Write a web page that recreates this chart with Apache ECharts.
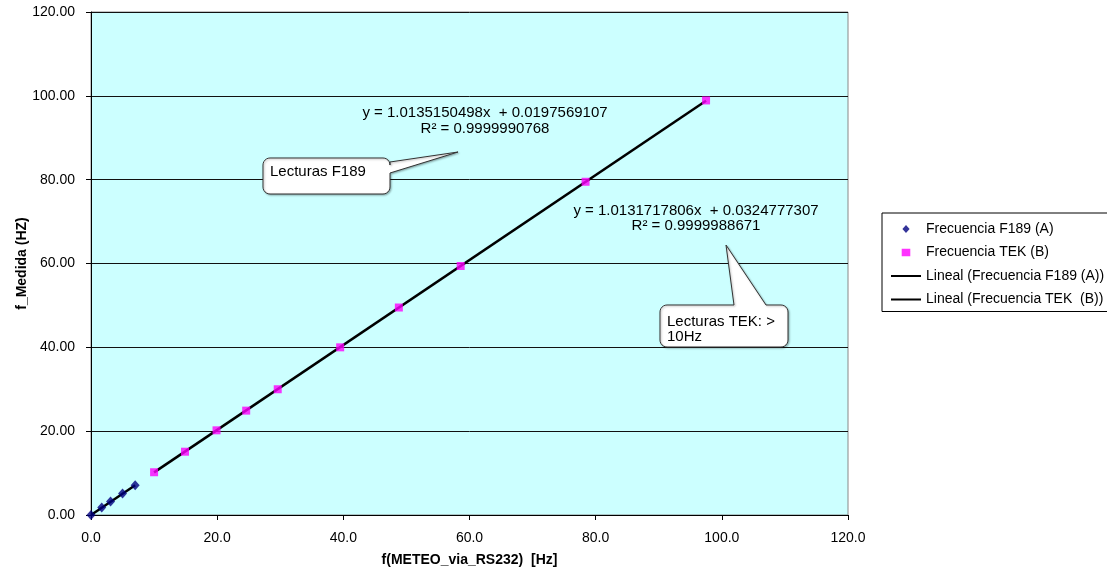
<!DOCTYPE html>
<html><head><meta charset="utf-8">
<script src="https://cdn.jsdelivr.net/npm/echarts@6/dist/echarts.min.js"></script>
<style>html,body{margin:0;padding:0;background:#fff}#c{width:1107px;height:571px}</style>
</head><body><div id="c"></div>
<script>
// ---- data ----
const xTicks = [0, 20, 40, 60, 80, 100, 120];
const yTicks = [0, 20, 40, 60, 80, 100, 120];
const f189X = [0, 1.7, 3.1, 5.0, 7.0];
const f189Y = [0, 1.8, 3.2, 5.1, 7.1];
const tekX = [10.0, 14.9, 19.9, 24.6, 29.6, 39.5, 48.8, 58.6, 78.4, 97.5];
const tekY = [10.2, 15.1, 20.2, 24.9, 30.0, 40.0, 49.5, 59.4, 79.5, 98.9];
const trendAX = [0, 7.0];
const trendAY = [0.02, 7.11];
const trendBX = [10.0, 97.5];
const trendBY = [10.17, 98.82];
const seriesNames = ['Frecuencia F189 (A)', 'Frecuencia TEK (B)', 'Lineal (Frecuencia F189 (A))', 'Lineal (Frecuencia TEK  (B))'];
const eqA = ['y = 1.0135150498x  + 0.0197569107', 'R² = 0.9999990768'];
const eqB = ['y = 1.0131717806x  + 0.0324777307', 'R² = 0.9999988671'];
const noteA = ['Lecturas F189'];
const noteB = ['Lecturas TEK: >', '10Hz'];
const xName = 'f(METEO_via_RS232)  [Hz]';
const yName = 'f_Medida (HZ)';

const zip = (a, b) => a.map((v, i) => [v, b[i]]);
const FONT = 'Liberation Sans, Arial, sans-serif';

// legend icons drawn in a 30x8 frame (tiny corner dots fix the frame)
const FRAME = 'M0,0L0.01,0L0,0.01Z M30,8L29.99,8L30,7.99Z ';
const iconDiamond = 'path://' + FRAME + 'M11.4,4L15,0L18.6,4L15,8Z';
const iconSquare = 'path://' + FRAME + 'M10.7,0.2H19.3V7.8H10.7Z';
const iconLine = 'path://' + FRAME + 'M0,3H30V5H0Z';

function callout(x0, y0, x1, y1, r, wedge) {
  const pts = [];
  const arc = (cx, cy, a0, a1) => {
    for (let k = 0; k <= 6; k++) {
      const a = a0 + (a1 - a0) * k / 6;
      pts.push([cx + r * Math.cos(a), cy + r * Math.sin(a)]);
    }
  };
  const P = Math.PI;
  arc(x0 + r, y0 + r, P, 1.5 * P);
  if (wedge.side === 'top') { pts.push([wedge.a, y0], wedge.tip, [wedge.b, y0]); }
  arc(x1 - r, y0 + r, 1.5 * P, 2 * P);
  if (wedge.side === 'right') { pts.push([x1, wedge.a], wedge.tip, [x1, wedge.b]); }
  arc(x1 - r, y1 - r, 0, 0.5 * P);
  arc(x0 + r, y1 - r, 0.5 * P, P);
  return pts;
}

const chart = echarts.init(document.getElementById('c'), null, {renderer: 'canvas'});
const txt = {fill: '#000', fontFamily: FONT, fontSize: 15};
const boxStyle = {fill: '#fff', stroke: '#333', lineWidth: 1, shadowBlur: 2, shadowColor: 'rgba(0,0,0,0.3)', shadowOffsetX: 1, shadowOffsetY: 1};

const option = {
  animation: false,
  backgroundColor: '#fff',
  textStyle: {fontFamily: FONT},
  grid: {left: 91, right: 259, top: 12, bottom: 56, show: true, backgroundColor: '#CCFFFF',
         borderColor: '#888', borderWidth: 1, outerBoundsMode: 'none', containLabel: false},
  xAxis: {
    type: 'value', min: xTicks[0], max: xTicks[xTicks.length - 1], interval: xTicks[1] - xTicks[0],
    name: xName, nameLocation: 'middle', nameGap: 38, nameMoveOverlap: false,
    nameTextStyle: {fontWeight: 'bold', fontSize: 14, color: '#000', fontFamily: FONT},
    axisLine: {show: true, onZero: false, lineStyle: {color: '#000', width: 1}},
    axisTick: {show: true, inside: false, length: 5, lineStyle: {color: '#000'}},
    axisLabel: {color: '#000', fontSize: 14, fontFamily: FONT, margin: 16, formatter: v => v.toFixed(1)},
    splitLine: {show: false}
  },
  yAxis: {
    type: 'value', min: yTicks[0], max: yTicks[yTicks.length - 1], interval: yTicks[1] - yTicks[0],
    name: yName, nameLocation: 'middle', nameGap: 62, nameRotate: 90, nameMoveOverlap: false,
    nameTextStyle: {fontWeight: 'bold', fontSize: 14, color: '#000', fontFamily: FONT},
    axisLine: {show: true, onZero: false, lineStyle: {color: '#000', width: 1}},
    axisTick: {show: true, inside: false, length: 5, lineStyle: {color: '#000'}},
    axisLabel: {color: '#000', fontSize: 14, fontFamily: FONT, margin: 16, formatter: v => v.toFixed(2)},
    splitLine: {show: true, lineStyle: {color: '#111', width: 1}}
  },
  legend: {
    orient: 'vertical', left: 882, top: 213,
    padding: [9, 10, 5, 9], itemGap: 9.5, itemWidth: 30, itemHeight: 8,
    borderColor: '#000', borderWidth: 1, backgroundColor: '#fff',
    textStyle: {color: '#000', fontSize: 14, fontFamily: FONT},
    selectedMode: false,
    data: [
      {name: seriesNames[0], icon: iconDiamond},
      {name: seriesNames[1], icon: iconSquare},
      {name: seriesNames[2], icon: iconLine},
      {name: seriesNames[3], icon: iconLine}
    ]
  },
  series: [
    {name: seriesNames[2], type: 'line', data: zip(trendAX, trendAY), symbol: 'none', showSymbol: false,
     lineStyle: {color: '#000', width: 2.5}, itemStyle: {color: '#000'}, z: 3},
    {name: seriesNames[3], type: 'line', data: zip(trendBX, trendBY), symbol: 'none', showSymbol: false,
     lineStyle: {color: '#000', width: 2.5}, itemStyle: {color: '#000'}, z: 3},
    {name: seriesNames[0], type: 'scatter', data: zip(f189X, f189Y), symbol: 'diamond', symbolSize: [9, 10],
     itemStyle: {color: '#000080'}, z: 4},
    {name: seriesNames[1], type: 'scatter', data: zip(tekX, tekY), symbol: 'rect', symbolSize: 8,
     itemStyle: {color: '#FF00FF'}, z: 5}
  ],
  graphic: [
    {type: 'text', x: 485, y: 113, style: Object.assign({text: eqA[0], textAlign: 'center', textVerticalAlign: 'middle'}, txt), z: 10},
    {type: 'text', x: 485, y: 129, style: Object.assign({text: eqA[1], textAlign: 'center', textVerticalAlign: 'middle'}, txt), z: 10},
    {type: 'text', x: 696, y: 211, style: Object.assign({text: eqB[0], textAlign: 'center', textVerticalAlign: 'middle'}, txt), z: 10},
    {type: 'text', x: 696, y: 226, style: Object.assign({text: eqB[1], textAlign: 'center', textVerticalAlign: 'middle'}, txt), z: 10},
    {type: 'polygon', shape: {points: callout(263, 158, 390, 194, 7, {side: 'right', a: 162, b: 173, tip: [458, 152]})},
     style: boxStyle, z: 10},
    {type: 'text', x: 270, y: 172, style: Object.assign({text: noteA[0], textAlign: 'left', textVerticalAlign: 'middle'}, txt), z: 11},
    {type: 'polygon', shape: {points: callout(660, 305, 788, 347, 7, {side: 'top', a: 734, b: 766, tip: [726, 245]})},
     style: boxStyle, z: 10},
    {type: 'text', x: 667, y: 322, style: Object.assign({text: noteB[0], textAlign: 'left', textVerticalAlign: 'middle'}, txt), z: 11},
    {type: 'text', x: 667, y: 337, style: Object.assign({text: noteB[1], textAlign: 'left', textVerticalAlign: 'middle'}, txt), z: 11}
  ]
};
chart.setOption(option);
</script></body></html>
